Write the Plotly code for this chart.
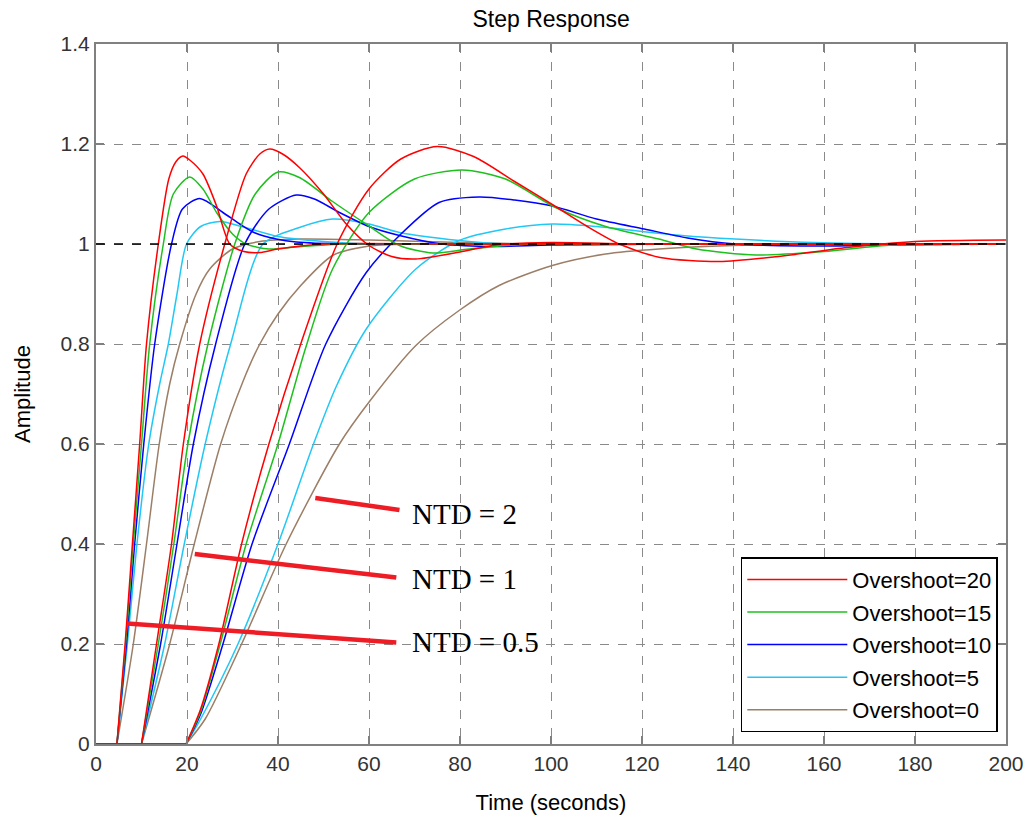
import plotly.graph_objects as go

# ---------------- data ----------------
# Group NTD = 0.5 (dead time ~4.6 s)
t_red_a = [0, 4.6, 6.4, 8.0, 9.6, 11.1, 13.7, 16.0, 17.6, 19.1, 20.6, 23.5, 26.5, 29.4, 32.5, 36.0, 40.0, 50.0, 80.0, 120.0, 200.0]
y_red_a = [0, 0, 0.2, 0.4, 0.6, 0.8, 1.0, 1.13, 1.165, 1.176, 1.168, 1.14, 1.076, 1.0, 0.985, 0.983, 0.99, 1.0, 1.0, 1.0, 1.0]
t_grn_a = [0, 4.6, 6.5, 8.2, 10.0, 11.8, 14.8, 17.0, 20.6, 23.5, 26.5, 30.0, 33.0, 38.0, 45.0, 55.0, 80.0, 120.0, 200.0]
y_grn_a = [0, 0, 0.2, 0.4, 0.6, 0.8, 1.0, 1.1, 1.134, 1.11, 1.063, 1.02, 1.0, 0.99, 0.995, 1.0, 1.0, 1.0, 1.0]
t_blu_a = [0, 4.6, 6.7, 8.5, 10.5, 12.9, 16.6, 19.0, 22.8, 27.9, 31.6, 35.0, 39.6, 44.0, 55.0, 80.0, 120.0, 200.0]
y_blu_a = [0, 0, 0.2, 0.4, 0.6, 0.8, 1.0, 1.07, 1.091, 1.063, 1.04, 1.022, 1.01, 1.004, 1.0, 1.0, 1.0, 1.0]
t_cyn_a = [0, 4.6, 6.9, 9.0, 11.6, 14.0, 15.9, 17.8, 19.9, 23.0, 27.2, 32.0, 40.0, 50.0, 60.0, 90.0, 130.0, 200.0]
y_cyn_a = [0, 0, 0.2, 0.4, 0.6, 0.72, 0.8, 0.9, 1.0, 1.035, 1.045, 1.035, 1.015, 1.005, 1.0, 1.0, 1.0, 1.0]
t_brn_a = [0, 4.6, 8.2, 11.1, 13.9, 16.2, 18.4, 22.0, 25.0, 30.0, 36.0, 45.0, 60.0, 80.0, 100.0, 200.0]
y_brn_a = [0, 0, 0.2, 0.4, 0.6, 0.72, 0.8, 0.9, 0.95, 0.99, 1.005, 1.01, 1.008, 1.003, 1.0, 1.0]

# Group NTD = 1 (dead time ~10 s)
t_red_b = [0, 10.0, 13.3, 16.6, 19.2, 22.8, 28.3, 33.0, 36.0, 38.2, 41.0, 44.7, 50.0, 55.0, 60.0, 65.0, 70.3, 80.0, 88.0, 100.0, 120.0, 200.0]
y_red_b = [0, 0, 0.2, 0.4, 0.6, 0.8, 1.0, 1.14, 1.18, 1.19, 1.18, 1.153, 1.1, 1.04, 0.997, 0.975, 0.97, 0.984, 0.998, 1.003, 1.0, 1.0]
t_grn_b = [0, 10.0, 13.7, 17.1, 20.2, 24.6, 30.5, 35.0, 40.0, 44.7, 52.0, 60.0, 66.7, 74.0, 82.0, 95.0, 130.0, 200.0]
y_grn_b = [0, 0, 0.2, 0.4, 0.6, 0.8, 1.0, 1.1, 1.144, 1.133, 1.085, 1.036, 0.997, 0.982, 0.99, 1.0, 1.0, 1.0]
t_blu_b = [0, 10.0, 14.2, 17.8, 21.4, 26.3, 32.7, 38.0, 44.0, 48.0, 53.5, 60.0, 66.7, 76.0, 88.0, 100.0, 140.0, 200.0]
y_blu_b = [0, 0, 0.2, 0.4, 0.6, 0.8, 1.0, 1.07, 1.098, 1.09, 1.063, 1.035, 1.017, 1.0, 0.995, 0.998, 1.0, 1.0]
t_cyn_b = [0, 10.0, 15.1, 19.4, 24.0, 29.6, 36.7, 44.7, 52.0, 60.0, 66.7, 79.8, 90.0, 130.0, 200.0]
y_cyn_b = [0, 0, 0.2, 0.4, 0.6, 0.8, 1.0, 1.033, 1.05, 1.04, 1.023, 1.007, 1.0, 1.0, 1.0]
t_brn_b = [0, 10.0, 16.2, 21.6, 27.4, 32.3, 36.0, 40.0, 45.0, 52.0, 59.4, 70.0, 100.0, 200.0]
y_brn_b = [0, 0, 0.2, 0.4, 0.6, 0.725, 0.8, 0.86, 0.917, 0.977, 0.995, 1.0, 1.0, 1.0]

# Group NTD = 2 (dead time ~20 s)
t_red_c = [0, 19.8, 23.0, 27.0, 32.0, 38.0, 45.0, 53.0, 60.0, 67.0, 75.0, 83.0, 92.0, 101.0, 108.0, 115.0, 124.0, 137.0, 150.0, 165.0, 180.0, 200.0]
y_red_c = [0, 0, 0.07, 0.2, 0.4, 0.6, 0.8, 1.0, 1.11, 1.17, 1.195, 1.175, 1.125, 1.075, 1.035, 1.0, 0.973, 0.965, 0.975, 0.993, 1.005, 1.008]
t_grn_c = [0, 19.8, 23.0, 27.3, 33.0, 40.0, 46.0, 52.0, 60.0, 70.0, 80.5, 90.0, 101.0, 112.0, 123.7, 132.0, 145.0, 160.0, 175.0, 200.0]
y_grn_c = [0, 0, 0.065, 0.2, 0.4, 0.6, 0.79, 0.95, 1.063, 1.13, 1.148, 1.13, 1.073, 1.035, 1.01, 0.99, 0.978, 0.985, 0.998, 1.0]
t_blu_c = [0, 19.8, 23.0, 27.9, 34.3, 42.5, 50.5, 59.4, 66.7, 75.4, 84.2, 92.0, 100.3, 110.0, 120.5, 130.0, 140.5, 155.0, 175.0, 200.0]
y_blu_c = [0, 0, 0.06, 0.2, 0.4, 0.6, 0.8, 0.943, 1.017, 1.083, 1.094, 1.088, 1.076, 1.05, 1.03, 1.012, 1.0, 0.996, 0.998, 1.0]
t_cyn_c = [0, 19.8, 23.0, 31.2, 40.0, 47.8, 52.8, 59.4, 70.3, 79.8, 90.0, 100.3, 110.0, 120.0, 128.8, 140.5, 158.0, 180.0, 200.0]
y_cyn_c = [0, 0, 0.05, 0.2, 0.4, 0.6, 0.715, 0.83, 0.95, 1.007, 1.03, 1.04, 1.035, 1.025, 1.017, 1.01, 1.003, 1.0, 1.0]
t_brn_c = [0, 19.8, 24.0, 32.0, 41.8, 53.5, 60.1, 70.3, 79.8, 88.6, 100.3, 112.0, 123.7, 140.0, 160.0, 200.0]
y_brn_c = [0, 0, 0.05, 0.2, 0.4, 0.6, 0.685, 0.797, 0.867, 0.917, 0.957, 0.98, 0.99, 0.997, 1.0, 1.0]

series_names = ["Overshoot=20", "Overshoot=15", "Overshoot=10", "Overshoot=5", "Overshoot=0"]
series_colors = ["#ff0000", "#1ec01e", "#0000ff", "#22c8f5", "#9c7e66"]

groups = [
    [(t_red_a, y_red_a), (t_grn_a, y_grn_a), (t_blu_a, y_blu_a), (t_cyn_a, y_cyn_a), (t_brn_a, y_brn_a)],
    [(t_red_b, y_red_b), (t_grn_b, y_grn_b), (t_blu_b, y_blu_b), (t_cyn_b, y_cyn_b), (t_brn_b, y_brn_b)],
    [(t_red_c, y_red_c), (t_grn_c, y_grn_c), (t_blu_c, y_blu_c), (t_cyn_c, y_cyn_c), (t_brn_c, y_brn_c)],
]

# annotation pointers (data coords) and labels
ntd_labels = ["NTD = 2", "NTD = 1", "NTD = 0.5"]
ntd_line_x0 = [48.2, 21.7, 6.8]
ntd_line_y0 = [0.492, 0.380, 0.241]
ntd_line_x1 = [66.7, 66.0, 66.0]
ntd_line_y1 = [0.468, 0.333, 0.203]
ntd_text_x = [69.0, 69.0, 69.0]
ntd_text_y = [0.46, 0.331, 0.204]

# ---------------- figure ----------------
fig = go.Figure()
# draw brown first so that red ends up on top (as in the reference)
for i in reversed(range(len(series_names))):
    name, color = series_names[i], series_colors[i]
    for g, grp in enumerate(groups):
        tx, ty = grp[i]
        # flat dead-time part (linear, sharp corner) ...
        fig.add_trace(go.Scatter(
            x=tx[:2], y=ty[:2], mode="lines", name=name, legendgroup=name,
            showlegend=False, hoverinfo="skip",
            line=dict(color=color, width=1.5),
        ))
        # ... then the smooth response
        fig.add_trace(go.Scatter(
            x=tx[1:], y=ty[1:], mode="lines", name=name, legendgroup=name,
            showlegend=(g == 0), legendrank=i + 1,
            line=dict(color=color, width=1.5, shape="spline", smoothing=0.75),
        ))

# steady-state reference line
fig.add_shape(type="line", xref="x", yref="y", x0=0, x1=200, y0=1, y1=1,
              line=dict(color="black", width=1.3, dash="dash"))

for lab, x0, y0, x1, y1, tx, ty in zip(ntd_labels, ntd_line_x0, ntd_line_y0,
                                        ntd_line_x1, ntd_line_y1, ntd_text_x, ntd_text_y):
    fig.add_shape(type="line", xref="x", yref="y", x0=x0, y0=y0, x1=x1, y1=y1,
                  line=dict(color="#ee1c24", width=4.5))
    fig.add_annotation(x=tx, y=ty, xref="x", yref="y", text=lab, showarrow=False,
                       xanchor="left", yanchor="middle",
                       font=dict(family="Liberation Serif", size=29, color="black"))

axis_common = dict(
    showgrid=True, gridcolor="#8a8a8a", griddash="dash", gridwidth=1,
    showline=True, linecolor="#808080", linewidth=2, mirror="ticks",
    ticks="inside", ticklen=8, tickcolor="#808080", tickwidth=1.5,
    zeroline=False,
    tickfont=dict(family="Liberation Sans", size=21, color="#333333"),
)

fig.update_layout(
    width=1036, height=823,
    margin=dict(l=96, r=28, t=44, b=76),
    plot_bgcolor="white", paper_bgcolor="white",
    title=dict(text="Step Response", x=0.532, xanchor="center", y=0.977, yanchor="middle",
               font=dict(family="Liberation Sans", size=23, color="black")),
    xaxis=dict(range=[0, 200], dtick=20, tick0=0,
               title=dict(text="Time (seconds)", standoff=20,
                          font=dict(family="Liberation Sans", size=22, color="black")),
               **axis_common),
    yaxis=dict(range=[0, 1.4], dtick=0.2, tick0=0,
               title=dict(text="Amplitude", standoff=24,
                          font=dict(family="Liberation Sans", size=22, color="black")),
               **axis_common),
    legend=dict(x=0.991, y=0.017, xanchor="right", yanchor="bottom",
                bgcolor="white", bordercolor="black", borderwidth=1.5,
                font=dict(family="Liberation Sans", size=22, color="black"),
                itemwidth=100, tracegroupgap=1, traceorder="grouped"),
    showlegend=True,
)

fig.write_html("out.html")
